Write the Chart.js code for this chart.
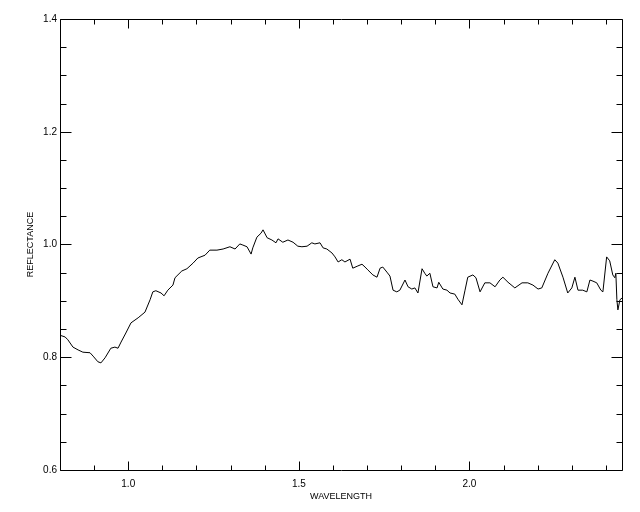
<!DOCTYPE html>
<html>
<head>
<meta charset="utf-8">
<script src="https://cdn.jsdelivr.net/npm/chart.js@4"></script>
<style>
    body { margin: 0; background: #fff; }
    canvas { display: block; }
</style>
</head>
<body>
<canvas id="chartSpectrum" width="640" height="512"></canvas>
<script>
// wavelength (x) and reflectance (y)
var wavelength = [
    0.800, 0.815, 0.823, 0.838, 0.853, 0.867, 0.888, 0.897, 0.911, 0.920,
    0.932, 0.949, 0.961, 0.970, 0.979, 0.993, 1.008, 1.029, 1.049, 1.064,
    1.072, 1.081, 1.096, 1.105, 1.116, 1.131,
    1.137, 1.157, 1.172, 1.190, 1.204, 1.225, 1.239, 1.260, 1.278, 1.298,
    1.313, 1.327, 1.336, 1.348, 1.360, 1.365, 1.377, 1.389, 1.395, 1.407,
    1.421, 1.433, 1.439, 1.453,
    1.468, 1.483, 1.497, 1.509, 1.524, 1.538, 1.547, 1.562, 1.571, 1.582,
    1.597, 1.606, 1.615, 1.626, 1.635, 1.650, 1.658, 1.673, 1.685, 1.694,
    1.702, 1.717, 1.729, 1.738, 1.746, 1.758, 1.767,
    1.776, 1.787, 1.796, 1.811, 1.820, 1.831, 1.840, 1.849, 1.861, 1.869,
    1.875, 1.884, 1.893, 1.905, 1.910, 1.922, 1.934, 1.943, 1.957, 1.966,
    1.978, 1.987, 1.995, 2.010, 2.019, 2.031, 2.045, 2.060, 2.075, 2.089,
    2.098, 2.113, 2.133, 2.154, 2.171, 2.186, 2.201, 2.212, 2.230, 2.250,
    2.259, 2.274, 2.288, 2.300, 2.309, 2.318, 2.332, 2.344, 2.353, 2.362,
    2.373, 2.385, 2.391, 2.402, 2.411, 2.420, 2.426, 2.429, 2.432, 2.435,
    2.441, 2.447
];
var reflectance = [
    0.839, 0.836, 0.831, 0.818, 0.813, 0.809, 0.808, 0.802, 0.792, 0.790,
    0.799, 0.816, 0.818, 0.816, 0.827, 0.843, 0.861, 0.870, 0.880, 0.902,
    0.916, 0.918, 0.914, 0.909, 0.919, 0.928,
    0.941, 0.953, 0.957, 0.967, 0.976, 0.981, 0.990, 0.990, 0.992, 0.996,
    0.992, 1.001, 0.999, 0.996, 0.983, 0.994, 1.013, 1.020, 1.026, 1.012,
    1.008, 1.003, 1.010, 1.004,
    1.008, 1.004, 0.997, 0.996, 0.997, 1.003, 1.001, 1.003, 0.994, 0.992,
    0.985, 0.978, 0.969, 0.973, 0.969, 0.974, 0.958, 0.962, 0.965, 0.960,
    0.955, 0.946, 0.942, 0.958, 0.960, 0.951, 0.944,
    0.919, 0.916, 0.919, 0.937, 0.925, 0.921, 0.923, 0.914, 0.957, 0.949,
    0.944, 0.949, 0.925, 0.923, 0.933, 0.921, 0.919, 0.914, 0.912, 0.903,
    0.893, 0.919, 0.942, 0.946, 0.941, 0.916, 0.932, 0.932, 0.925, 0.937,
    0.942, 0.933, 0.923, 0.932, 0.932, 0.928, 0.921, 0.923, 0.949, 0.973,
    0.967, 0.942, 0.914, 0.923, 0.942, 0.919, 0.919, 0.916, 0.937, 0.935,
    0.932, 0.919, 0.916, 0.978, 0.971, 0.946, 0.941, 0.949, 0.902, 0.884,
    0.902, 0.905
];

// axis ranges and tick steps
var xRange = [0.8, 2.447];
var yRange = [0.6, 1.4];
var xStep = 0.1;
var yStep = 0.05;
var xMajorEvery = 0.5;
var yMajorEvery = 0.2;

var points = wavelength.map(function (w, i) {
    return { x: w, y: reflectance[i] };
});

function isMajor(v, every) {
    var r = v / every;
    return Math.abs(r - Math.round(r)) < 1e-6;
}

// IDL style frame with inward ticks on all four sides
var frameTicks = {
    id: 'frameTicks',
    afterDraw: function (chart) {
        var ctx = chart.ctx;
        var a = chart.chartArea;
        var xs = chart.scales.x;
        var ys = chart.scales.y;
        var L = Math.round(a.left) + 0.5, R = Math.round(a.right) + 0.5;
        var T = Math.round(a.top) + 0.5, B = Math.round(a.bottom) + 0.5;
        ctx.save();
        ctx.strokeStyle = '#000';
        ctx.lineWidth = 1;
        ctx.beginPath();
        ctx.rect(L, T, R - L, B - T);
        xs.ticks.forEach(function (t) {
            var p = Math.round(xs.getPixelForValue(t.value)) + 0.5;
            var len = isMajor(t.value, xMajorEvery) ? 9 : 5;
            ctx.moveTo(p, B); ctx.lineTo(p, B - len);
            ctx.moveTo(p, T); ctx.lineTo(p, T + len);
        });
        ys.ticks.forEach(function (t) {
            var p = Math.round(ys.getPixelForValue(t.value)) + 0.5;
            var len = isMajor(t.value, yMajorEvery) ? 11 : 6;
            ctx.moveTo(L, p); ctx.lineTo(L + len, p);
            ctx.moveTo(R, p); ctx.lineTo(R - len, p);
        });
        ctx.stroke();
        ctx.restore();
    }
};

var chartSpectrum = new Chart(document.getElementById('chartSpectrum'), {
    type: 'line',
    data: {
        datasets: [{
            data: points,
            borderColor: '#000',
            borderWidth: 1,
            pointRadius: 0,
            tension: 0,
            fill: false
        }]
    },
    options: {
        responsive: false,
        animation: false,
        layout: {
            padding: { top: 19, right: 18, left: 0, bottom: 0 }
        },
        plugins: {
            legend: { display: false },
            tooltip: { enabled: false }
        },
        scales: {
            x: {
                type: 'linear',
                min: xRange[0],
                max: xRange[1],
                afterFit: function (scale) { scale.height = 42; },
                grid: { display: false, drawTicks: false },
                border: { display: false },
                ticks: {
                    stepSize: xStep,
                    includeBounds: false,
                    autoSkip: false,
                    maxRotation: 0,
                    padding: 8,
                    color: '#000',
                    font: { family: 'Liberation Sans', size: 10 },
                    callback: function (v) {
                        return isMajor(v, xMajorEvery) ? v.toFixed(1) : '';
                    }
                },
                title: {
                    display: true,
                    text: 'WAVELENGTH',
                    color: '#000',
                    font: { family: 'Liberation Sans', size: 9 },
                    padding: { top: 0, bottom: 10 }
                }
            },
            y: {
                min: yRange[0],
                max: yRange[1],
                afterFit: function (scale) { scale.width = 60; },
                grid: { display: false, drawTicks: false },
                border: { display: false },
                ticks: {
                    stepSize: yStep,
                    includeBounds: false,
                    autoSkip: false,
                    padding: 3,
                    color: '#000',
                    font: { family: 'Liberation Sans', size: 10 },
                    callback: function (v) {
                        return isMajor(v, yMajorEvery) ? v.toFixed(1) : '';
                    }
                },
                title: {
                    display: true,
                    text: 'REFLECTANCE',
                    color: '#000',
                    font: { family: 'Liberation Sans', size: 9 },
                    padding: { top: 25, bottom: 0 }
                }
            }
        }
    },
    plugins: [frameTicks]
});
</script>
</body>
</html>
